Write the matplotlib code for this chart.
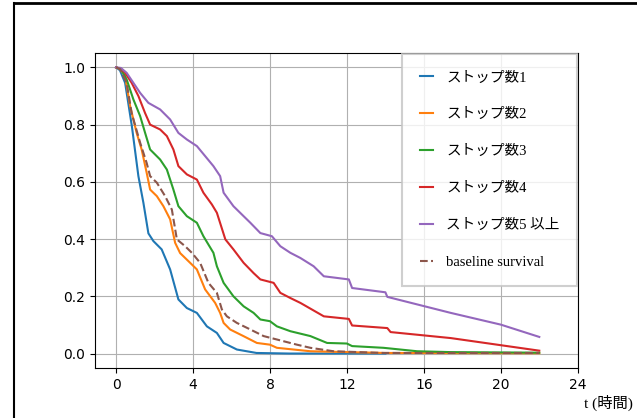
import matplotlib
matplotlib.use('Agg')
import matplotlib.pyplot as plt
from matplotlib.lines import Line2D

# survival curves (time in hours, survival prob)
t1 = [0, 0.2, 0.47, 0.82, 1.16, 1.42, 1.68, 1.94, 2.37, 2.81, 3.24, 3.68, 4.2, 4.72, 5.24, 5.59, 6.28, 7.3, 9.0, 14.0]
s1 = [1.0, 0.99, 0.946, 0.795, 0.62, 0.527, 0.42, 0.393, 0.364, 0.294, 0.189, 0.159, 0.142, 0.095, 0.072, 0.037, 0.014, 0.002, 0.0, 0.0]

t2 = [0, 0.2, 0.47, 0.73, 1.07, 1.33, 1.59, 1.77, 2.12, 2.46, 2.81, 3.07, 3.33, 3.85, 4.2, 4.63, 5.15, 5.41, 5.59, 5.93, 6.62, 7.32, 8.0, 8.36, 10.1, 14.0, 22.0]
s2 = [1.0, 0.995, 0.97, 0.865, 0.771, 0.713, 0.632, 0.573, 0.55, 0.515, 0.469, 0.387, 0.351, 0.317, 0.294, 0.224, 0.177, 0.142, 0.107, 0.084, 0.061, 0.037, 0.031, 0.02, 0.008, 0.002, 0.001]

t3 = [0, 0.25, 0.55, 0.9, 1.25, 1.51, 1.77, 2.29, 2.64, 2.98, 3.24, 3.68, 4.2, 4.54, 5.06, 5.24, 5.59, 6.1, 6.63, 7.15, 7.5, 8.0, 8.36, 9.06, 10.1, 10.97, 12.0, 12.27, 13.9, 15.65, 17.4, 22.0]
s3 = [1.0, 0.995, 0.958, 0.888, 0.83, 0.771, 0.713, 0.678, 0.643, 0.573, 0.515, 0.48, 0.457, 0.41, 0.352, 0.305, 0.247, 0.2, 0.165, 0.142, 0.119, 0.113, 0.095, 0.078, 0.061, 0.037, 0.035, 0.026, 0.02, 0.008, 0.005, 0.003]

t4 = [0, 0.25, 0.47, 0.81, 1.16, 1.51, 1.77, 2.29, 2.64, 2.98, 3.24, 3.68, 4.2, 4.54, 4.98, 5.24, 5.68, 6.1, 6.63, 7.15, 7.5, 8.19, 8.54, 9.06, 9.58, 10.8, 12.1, 12.27, 14.1, 14.27, 17.4, 22.0]
s4 = [1.0, 0.995, 0.981, 0.946, 0.9, 0.84, 0.8, 0.783, 0.76, 0.713, 0.655, 0.626, 0.608, 0.562, 0.521, 0.492, 0.399, 0.364, 0.317, 0.281, 0.259, 0.247, 0.212, 0.194, 0.177, 0.13, 0.121, 0.098, 0.089, 0.075, 0.054, 0.01]

t5 = [0, 0.25, 0.55, 0.9, 1.25, 1.68, 2.29, 2.81, 3.24, 3.68, 4.2, 4.63, 5.06, 5.41, 5.59, 6.1, 6.63, 6.98, 7.5, 8.1, 8.54, 9.06, 9.58, 10.27, 10.8, 12.1, 12.27, 14.0, 14.1, 17.4, 20.0, 22.0]
s5 = [1.0, 0.998, 0.981, 0.946, 0.911, 0.876, 0.853, 0.818, 0.771, 0.748, 0.725, 0.69, 0.655, 0.62, 0.562, 0.515, 0.48, 0.457, 0.421, 0.41, 0.375, 0.352, 0.334, 0.305, 0.27, 0.259, 0.229, 0.214, 0.198, 0.142, 0.101, 0.058]

tb = [0, 0.2, 0.55, 0.81, 1.25, 1.59, 1.77, 2.12, 2.55, 2.9, 3.16, 3.59, 3.94, 4.37, 4.8, 5.24, 5.5, 5.76, 6.28, 6.98, 7.67, 8.36, 9.4, 10.1, 11.3, 13.9, 22.0]
sb = [1.0, 0.995, 0.946, 0.84, 0.737, 0.666, 0.62, 0.597, 0.55, 0.503, 0.399, 0.375, 0.352, 0.317, 0.247, 0.212, 0.154, 0.13, 0.107, 0.084, 0.061, 0.049, 0.031, 0.02, 0.008, 0.002, 0.002]

labels = ['ストップ数1', 'ストップ数2', 'ストップ数3', 'ストップ数4', 'ストップ数5 以上']
series = [(t1, s1), (t2, s2), (t3, s3), (t4, s4), (t5, s5)]
colors = ['C0', 'C1', 'C2', 'C3', 'C4']

serif_jp = ['Liberation Serif', 'Noto Sans CJK JP']

fig = plt.figure(figsize=(6.37, 4.18), dpi=100)
ax = fig.add_axes([0.149, 0.120, 0.758, 0.753])

for (t, s), lab, c in zip(series, labels, colors):
    ax.plot(t, s, color=c, lw=1.5, label=lab)
ax.plot(tb, sb, color='C5', lw=1.5, ls='--', label='baseline survival')

ax.set_xlim(-1.1, 24)
ax.set_ylim(-0.05, 1.05)
ax.set_xticks([0, 4, 8, 12, 16, 20, 24])
ax.set_yticks([0.0, 0.2, 0.4, 0.6, 0.8, 1.0])
ax.grid(True)

ax.set_xlabel('t (時間)', family=serif_jp, fontsize=11, va='center', ha='center')
ax.xaxis.set_label_coords(1.064, -0.111)

leg = ax.legend(loc='upper right', borderaxespad=0.05, labelspacing=1.62,
                handlelength=0.9, handletextpad=0.9, borderpad=1.2,
                prop={'family': serif_jp, 'size': 10.5}, fancybox=False)
leg.get_frame().set_edgecolor('#c4c4c4')
leg.get_frame().set_linewidth(1.5)

# screenshot frame at top and left
fig.add_artist(Line2D([0.022, 1.0], [0.994, 0.994], transform=fig.transFigure, color='black', lw=2))
fig.add_artist(Line2D([0.022, 0.022], [0.0, 0.994], transform=fig.transFigure, color='black', lw=1.5))

fig.savefig('out.png', dpi=100)
